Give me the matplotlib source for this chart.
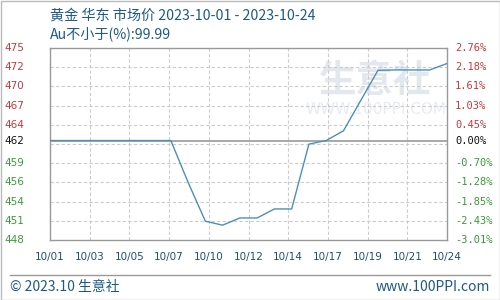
import numpy as np
import matplotlib
matplotlib.use("Agg")
import matplotlib.pyplot as plt
from matplotlib.lines import Line2D
from matplotlib.patches import Rectangle
import matplotlib.transforms as mtransforms

plt.rcParams['font.family'] = ['Noto Sans CJK SC', 'DejaVu Sans']

# ---- data ----
days = list(range(24))  # 10/01 .. 10/24
prices = [462.0, 462.0, 462.0, 462.0, 462.0, 462.0, 462.0, 462.0,
          456.2, 450.8, 450.25, 451.25, 451.25, 452.5, 452.5,
          461.5, 462.0, 463.35, 467.55, 471.75, 471.8, 471.8, 471.8, 472.7]
x_labels = ["10/01", "10/03", "10/05", "10/07", "10/10", "10/12",
            "10/14", "10/17", "10/19", "10/21", "10/24"]
base_price = 462.0
y_min, y_max = 448.19, 474.85
left_labels = ["448", "451", "454", "456", "459", "", "464", "467", "470", "472", "475"]
right_labels = ["-3.01%", "-2.43%", "-1.85%", "-1.28%", "-0.70%", "", "0.45%",
                "1.03%", "1.61%", "2.18%", "2.76%"]
base_left_label = "462"
base_right_label = "0.00%"
title = "黄金 华东 市场价 2023-10-01 - 2023-10-24"
subtitle = "Au不小于(%):99.99"

# ---- figure ----
W, H = 500, 300
fig = plt.figure(figsize=(5, 3), dpi=100)
fig.patch.set_facecolor('white')

L, R, T, B = 50, 447, 48, 240
ax = fig.add_axes([L / W, 1 - B / H, (R - L) / W, (B - T) / H])
ax.set_xlim(days[0], days[-1])
ax.set_ylim(y_min, y_max)

grid_y = np.linspace(y_min, y_max, 11)
grid_x = np.linspace(days[0], days[-1], len(x_labels))
for gy in grid_y[1:-1]:
    ax.axhline(gy, color='#cccccc', lw=0.8, ls=(0, (3, 2)), zorder=1)
for gx in grid_x[1:-1]:
    ax.axvline(gx, color='#cccccc', lw=0.8, ls=(0, (3, 2)), zorder=1)
ax.axhline(base_price, color='#999999', lw=1.2, zorder=2)

# watermark
ax.text(0.82, 0.83, "生意社", transform=ax.transAxes, ha='center', va='center',
        fontsize=27, color='#e3e8ef', fontweight='bold', zorder=0)
ax.text(0.82, 0.68, "WWW.100PPI.COM", transform=ax.transAxes, ha='center', va='center',
        fontsize=11, color='#e8ecf1', family=['DejaVu Sans'], zorder=0)

ax.plot(days, prices, color='#4b8fba', lw=1.0, zorder=3)

for s in ax.spines.values():
    s.set_color('#999999')
    s.set_linewidth(1.0)
ax.set_xticks([])
ax.set_yticks([])

red, green, black = '#c8383c', '#3a9a3a', '#111111'
tl = mtransforms.blended_transform_factory(fig.transFigure, ax.transData)
for gy, lab, rlab in zip(grid_y, left_labels, right_labels):
    if not lab:
        continue
    c = red if gy > base_price else green
    ax.text(4 / W, gy, lab, transform=tl, ha='left', va='center', fontsize=7.5,
            color=c, family=['DejaVu Sans'])
    ax.text(455 / W, gy, rlab, transform=tl, ha='left', va='center', fontsize=7.5,
            color=c, family=['DejaVu Sans Mono'])
ax.text(4 / W, base_price, base_left_label, transform=tl, ha='left', va='center',
        fontsize=7.5, color=black, family=['DejaVu Sans'])
ax.text(455 / W, base_price, base_right_label, transform=tl, ha='left', va='center',
        fontsize=7.5, color=black, family=['DejaVu Sans Mono'])

tb = mtransforms.blended_transform_factory(ax.transData, fig.transFigure)
for gx, lab in zip(grid_x, x_labels):
    ax.text(gx, 1 - 257 / H, lab, transform=tb, ha='center', va='center',
            fontsize=7.5, color='#1f4e6e', family=['DejaVu Sans'])

# titles
fig.text(50 / W, 1 - 16 / H, title, ha='left', va='center', fontsize=10.2, color='#1d5a85')
fig.text(50 / W, 1 - 34 / H, subtitle, ha='left', va='center', fontsize=10.2, color='#1d5a85')

# footer
fig.add_artist(Line2D([10 / W, 490 / W], [1 - 275 / H, 1 - 275 / H],
                      transform=fig.transFigure, color='#999999', lw=1))
fig.text(10 / W, 1 - 287 / H, "© 2023.10 生意社", ha='left', va='center',
         fontsize=10, color='#1d5a85')
fig.text(490 / W, 1 - 287 / H, "www.100PPI.com", ha='right', va='center',
         fontsize=10, color='#1d5a85')

# outer border
fig.add_artist(Rectangle((0.5 / W, 0.5 / H), 1 - 1 / W, 1 - 1 / H, transform=fig.transFigure,
                         fill=False, edgecolor='#bbbbbb', lw=1))

fig.savefig("out.png", dpi=100, facecolor='white')
